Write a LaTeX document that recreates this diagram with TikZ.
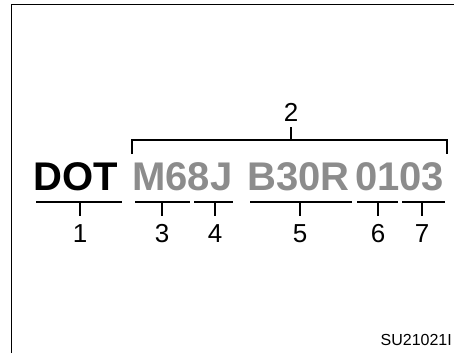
\documentclass[tikz,border=0pt]{standalone}
\usepackage{fontspec}
\setmainfont{Liberation Sans}
\definecolor{codegray}{HTML}{8C8C8C}
\begin{document}
\begin{tikzpicture}[x=1pt,y=-1pt,
  big/.style={inner sep=0pt,anchor=base west,font=\fontsize{40}{40}\selectfont\bfseries},
  num/.style={inner sep=0pt,anchor=base,font=\fontsize{26}{26}\selectfont},
  rule/.style={line width=1.8pt},
  tick/.style={line width=1.3pt},
  frame/.style={line width=1.6pt}]
\useasboundingbox (0,0) rectangle (454,353);
\begin{scope}
\clip (0,0) rectangle (454,353);
% frame
\draw[frame] (11.5,353) -- (11.5,4.5) -- (460,4.5);
% code text
\node[big] (dot) at (33,190) {DOT};
\node[big,text=codegray] (m68j) at (132,190) {M68J};
\node[big,text=codegray] (b30r) at (247,190) {B30R};
\node[big,text=codegray] (c0103) at (355,190) {0103};
% underlines
\coordinate (u1a) at (36,202); \coordinate (u1b) at (122,202);
\coordinate (u3a) at (135,202); \coordinate (u3b) at (190,202);
\coordinate (u4a) at (194,202); \coordinate (u4b) at (233,202);
\coordinate (u5a) at (250,202); \coordinate (u5b) at (352,202);
\coordinate (u6a) at (357,202); \coordinate (u6b) at (398,202);
\coordinate (u7a) at (402,202); \coordinate (u7b) at (445,202);
\foreach \s in {1,3,4,5,6,7}{\draw[rule] (u\s a) -- (u\s b);}
% numbers
\node[num] (n1) at (80,242) {1};
\node[num] (n3) at (162,242) {3};
\node[num] (n4) at (215,242) {4};
\node[num] (n5) at (300,242) {5};
\node[num] (n6) at (378,242) {6};
\node[num] (n7) at (422,242) {7};
\foreach \s/\x in {1/80,3/162,4/215,5/300,6/378,7/422}{
  \coordinate (t\s) at (\x,216);
  \draw[tick] (\x,202) -- (t\s);}
% bracket 2
\node[num] (n2) at (291,121) {2};
\coordinate (bl) at (132,154); \coordinate (br) at (447,154);
\coordinate (bt) at (291,127);
\draw[tick] (bl) -- (132,140) -- (447,140) -- (br);
\draw[tick] (291,140) -- (bt);
% reference label
\node[inner sep=0pt,anchor=base east,font=\fontsize{16}{16}\selectfont] (ref) at (452,345) {SU21021I};
\end{scope}
\end{tikzpicture}
\end{document}
